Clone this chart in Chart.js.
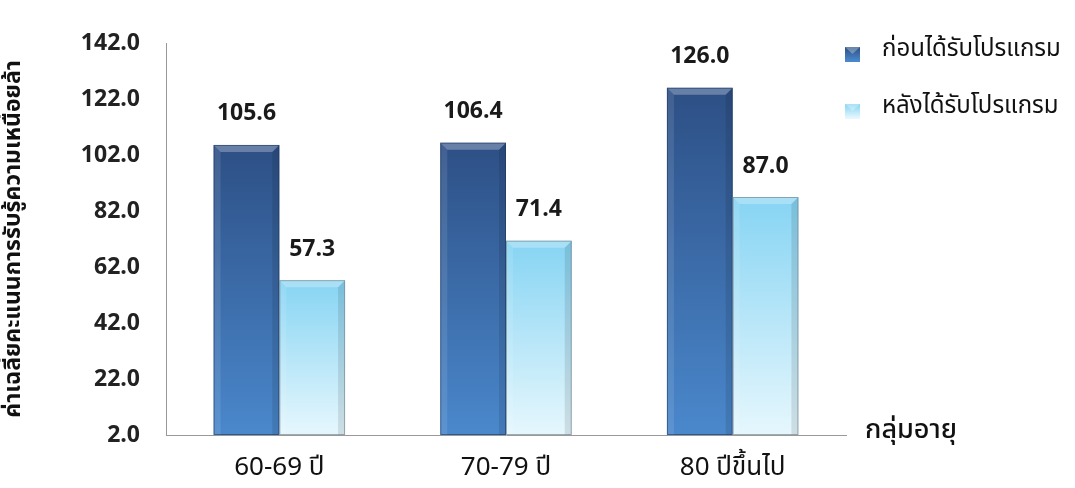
<!DOCTYPE html>
<html>
<head>
<meta charset="utf-8">
<script src="https://cdn.jsdelivr.net/npm/chart.js@4"></script>
<style>
  html, body { margin: 0; padding: 0; background: #fff; }
  #wrap { width: 1075px; height: 488px; position: relative; }
</style>
</head>
<body>
<div id="wrap"><canvas id="chart"></canvas></div>
<script>
const categories = ['60-69 ปี', '70-79 ปี', '80 ปีขึ้นไป'];
const seriesNames = ['ก่อนได้รับโปรแกรม', 'หลังได้รับโปรแกรม'];
const beforeValues = [105.6, 106.4, 126.0];
const afterValues = [57.3, 71.4, 87.0];
const yMin = 2, yMax = 142, yStep = 20;
const yTitle = 'ค่าเฉลี่ยคะแนนการรับรู้ความเหนื่อยล้า';
const xTitle = 'กลุ่มอายุ';

const thaiFont = "'Noto Sans Thai', 'Liberation Sans', 'DejaVu Sans', sans-serif";
const numFont = "'Open Sans', 'Liberation Sans', sans-serif";

// bar fill colors (top, bottom)
const palettes = [
  ['#2d4f85', '#4a88cc'],
  ['#86d4f3', '#e6f7fd']
];

function barGradient(ctx, dsIndex) {
  const chart = ctx.chart;
  if (!chart.chartArea || ctx.type !== 'data') return palettes[dsIndex][1];
  const y = chart.scales.y;
  const top = y.getPixelForValue(ctx.raw);
  const bottom = y.getPixelForValue(yMin);
  const g = chart.ctx.createLinearGradient(0, top, 0, bottom);
  g.addColorStop(0, palettes[dsIndex][0]);
  g.addColorStop(1, palettes[dsIndex][1]);
  return g;
}

// bevel + value labels on top of bars, legend and x title
const barDecor = {
  id: 'barDecor',
  afterDatasetsDraw(chart) {
    const c = chart.ctx;
    chart.data.datasets.forEach((ds, di) => {
      chart.getDatasetMeta(di).data.forEach((bar, i) => {
        const l = bar.x - bar.width / 2, r = bar.x + bar.width / 2;
        const t = bar.y, b = bar.base, bv = 7;
        c.save();
        c.fillStyle = 'rgba(255,255,255,0.28)';
        c.beginPath();
        c.moveTo(l, t); c.lineTo(r, t); c.lineTo(r - bv, t + bv); c.lineTo(l + bv, t + bv);
        c.closePath(); c.fill();
        c.fillStyle = 'rgba(255,255,255,0.1)';
        c.beginPath();
        c.moveTo(l, t); c.lineTo(l + bv, t + bv); c.lineTo(l + bv, b); c.lineTo(l, b);
        c.closePath(); c.fill();
        c.fillStyle = 'rgba(0,0,0,0.1)';
        c.beginPath();
        c.moveTo(r, t); c.lineTo(r - bv, t + bv); c.lineTo(r - bv, b); c.lineTo(r, b);
        c.closePath(); c.fill();
        c.strokeStyle = di === 0 ? 'rgba(30,50,90,0.55)' : 'rgba(120,140,150,0.7)';
        c.lineWidth = 1;
        c.strokeRect(l + 0.5, t + 0.5, bar.width - 1, b - t - 1);
        // value label
        c.fillStyle = '#1a1a1a';
        c.font = 'bold 23px ' + numFont;
        c.textAlign = 'center';
        c.textBaseline = 'middle';
        c.fillText(ds.data[i].toFixed(1), bar.x, t - 31);
        c.restore();
      });
    });
  },
  afterDraw(chart) {
    const c = chart.ctx;
    const area = chart.chartArea;
    c.save();
    // x axis title to the right of the axis
    c.fillStyle = '#111';
    c.font = '500 27px ' + thaiFont;
    c.textAlign = 'left';
    c.textBaseline = 'middle';
    c.fillText(xTitle, area.right + 19, area.bottom - 2);
    // legend
    const lx = area.right - 1;
    [54, 111].forEach((ly, di) => {
      const g = c.createLinearGradient(0, ly - 7, 0, ly + 7);
      g.addColorStop(0, palettes[di][0]);
      g.addColorStop(1, palettes[di][1]);
      c.fillStyle = g;
      c.fillRect(lx, ly - 7, 15, 15);
      c.fillStyle = 'rgba(255,255,255,0.3)';
      c.beginPath();
      c.moveTo(lx, ly - 7); c.lineTo(lx + 15, ly - 7); c.lineTo(lx + 7.5, ly); c.closePath(); c.fill();
      c.fillStyle = '#111';
      c.font = '24px ' + thaiFont;
      c.fillText(seriesNames[di], lx + 37, ly - 3);
    });
    c.restore();
  }
};

new Chart(document.getElementById('chart'), {
  type: 'bar',
  data: {
    labels: categories,
    datasets: [
      { label: seriesNames[0], data: beforeValues, base: yMin, backgroundColor: ctx => barGradient(ctx, 0), borderWidth: 0 },
      { label: seriesNames[1], data: afterValues, base: yMin, backgroundColor: ctx => barGradient(ctx, 1), borderWidth: 0 }
    ]
  },
  options: {
    responsive: true,
    maintainAspectRatio: false,
    animation: false,
    layout: { padding: { top: 43, right: 229, left: 0, bottom: 0 } },
    plugins: {
      legend: { display: false },
      tooltip: { enabled: false }
    },
    datasets: { bar: { categoryPercentage: 0.58, barPercentage: 1.0 } },
    scales: {
      x: {
        grid: { display: false, drawTicks: false },
        border: { color: '#999', width: 1 },
        afterFit: s => { s.height = 53; },
        ticks: { color: '#111', font: { family: "'Liberation Sans Narrow', " + thaiFont, size: 26 }, padding: 19 }
      },
      y: {
        min: yMin,
        max: yMax,
        afterFit: s => { s.width = 166; },
        grid: { display: false, drawTicks: true, tickLength: 9, tickColor: '#999', drawOnChartArea: false },
        border: { color: '#999', width: 1 },
        ticks: {
          stepSize: yStep,
          color: '#222',
          padding: 17,
          font: { family: numFont, size: 23, weight: 'bold' },
          callback: v => Number(v).toFixed(1)
        },
        title: {
          display: true,
          text: yTitle,
          color: '#111',
          font: { family: thaiFont, size: 23, weight: 'bold' },
          padding: { top: 2, bottom: 0 }
        }
      }
    }
  },
  plugins: [barDecor]
});
</script>
</body>
</html>
